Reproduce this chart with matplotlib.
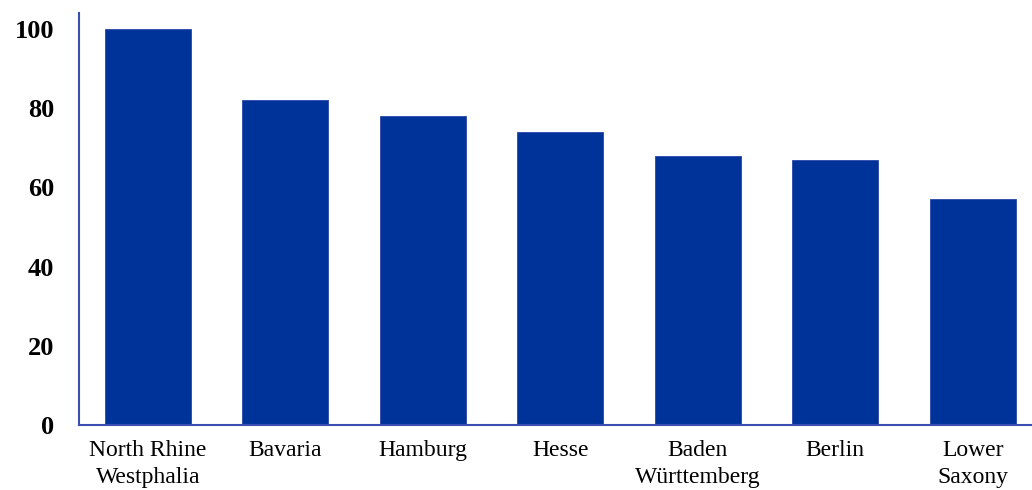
import matplotlib
matplotlib.use("Agg")
import matplotlib.pyplot as plt
import numpy as np

states = [
    "North Rhine\nWestphalia",
    "Bavaria",
    "Hamburg",
    "Hesse",
    "Baden\nWürttemberg",
    "Berlin",
    "Lower\nSaxony",
]
values = [100, 82, 78, 74, 68, 67, 57]
yticks = [0, 20, 40, 60, 80, 100]

bar_color = "#003399"
spine_color = "#3a4fb0"

plt.rcParams["font.family"] = ["Liberation Serif", "DejaVu Serif"]

fig = plt.figure(figsize=(10.32, 4.9), dpi=100)
ax = fig.add_axes([79 / 1032, 1 - 425 / 490, 1 - 79 / 1032, (425 - 13) / 490])

x = np.arange(len(states))
ax.bar(x, values, width=0.625, color=bar_color, edgecolor="#2a46a8", linewidth=0.6)

ax.set_xlim(-0.5, 6.43)
ax.set_ylim(0, 104)
ax.set_yticks(yticks)
ax.set_yticklabels([str(t) for t in yticks], fontsize=19, fontweight="bold")
ax.set_xticks(x)
ax.set_xticklabels(states, fontsize=17, linespacing=1.35)
ax.tick_params(axis="both", length=0)
ax.tick_params(axis="y", pad=18)
ax.tick_params(axis="x", pad=11)

for side in ["top", "right"]:
    ax.spines[side].set_visible(False)
for side in ["left", "bottom"]:
    ax.spines[side].set_color(spine_color)
    ax.spines[side].set_linewidth(1.5)

fig.savefig("out.png", dpi=100)
